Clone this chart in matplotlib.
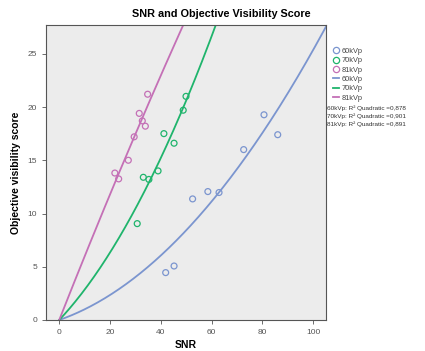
import numpy as np
import matplotlib
matplotlib.use('Agg')
import matplotlib.pyplot as plt
from matplotlib.lines import Line2D

plt.rcParams['font.family'] = ['Liberation Sans', 'DejaVu Sans']

# SNR / score points
snr_60 = [41.9, 45.2, 52.5, 58.5, 62.9, 72.6, 80.6, 86.0]
score_60 = [4.45, 5.07, 11.37, 12.06, 11.97, 16.0, 19.27, 17.4]
snr_70 = [30.7, 33.1, 35.3, 38.9, 41.2, 45.2, 48.8, 49.9]
score_70 = [9.05, 13.4, 13.2, 14.0, 17.5, 16.6, 19.7, 21.0]
snr_81 = [21.9, 23.4, 27.2, 29.5, 31.5, 32.7, 33.9, 34.8]
score_81 = [13.8, 13.25, 15.0, 17.2, 19.4, 18.7, 18.2, 21.2]

grupos = ['60kVp', '70kVp', '81kVp']
r2 = ['0,878', '0,901', '0,891']
cores = ['#7b95cf', '#1fb46c', '#c470b6']


def ajuste_quadratico(x, y):
    # quadratica sem constante (passa pela origem)
    x = np.array(x)
    A = np.column_stack([x, x ** 2])
    coef, *_ = np.linalg.lstsq(A, np.array(y), rcond=None)
    return coef


fig = plt.figure(figsize=(4.25, 3.51), dpi=100)
ax = fig.add_axes([46 / 425, 1 - 320 / 351, 280 / 425, 295 / 351])
ax.set_facecolor('#ececec')

dados = [(snr_60, score_60), (snr_70, score_70), (snr_81, score_81)]
xs = np.linspace(0, 105, 300)
for (x, y), cor in zip(dados, cores):
    ax.scatter(x, y, s=18, facecolors='none', edgecolors=cor, linewidths=0.9, zorder=3)
    b1, b2 = ajuste_quadratico(x, y)
    ax.plot(xs, b1 * xs + b2 * xs ** 2, color=cor, lw=1.3, zorder=2)

ax.set_xlim(-5.2, 105)
ax.set_ylim(0, 27.7)
ax.set_xticks([0, 20, 40, 60, 80, 100])
ax.set_yticks([0, 5, 10, 15, 20, 25])
ax.tick_params(labelsize=6, colors='#555555', length=3, width=0.6)
for s in ax.spines.values():
    s.set_color('#555555')
    s.set_linewidth(0.8)

ax.set_xlabel('SNR', fontsize=7.5, fontweight='bold', labelpad=3)
ax.set_ylabel('Objective visibility score', fontsize=7.5, fontweight='bold', labelpad=5)
fig.text(221 / 425, 1 - 14 / 351, 'SNR and Objective Visibility Score',
         ha='center', va='center', fontsize=7.8, fontweight='bold')

# legenda manual
handles = [Line2D([], [], ls='none', marker='o', mfc='none', mec=c, ms=4.5, mew=0.9) for c in cores]
handles += [Line2D([], [], color=c, lw=1.3) for c in cores]
labels = grupos + grupos
fig.legend(handles, labels, loc='upper left', bbox_to_anchor=(329 / 425, 1 - 44 / 351),
           frameon=False, fontsize=5.3, handlelength=0.9, handletextpad=0.3,
           labelspacing=0.3, borderpad=0, labelcolor='#444444')

for i, (g, v) in enumerate(zip(grupos, r2)):
    fig.text(327 / 425, 1 - (108 + 8 * i) / 351, f'{g}: R² Quadratic ={v}',
             fontsize=4.6, color='#333333', va='center')

fig.savefig('out.png', dpi=100)
